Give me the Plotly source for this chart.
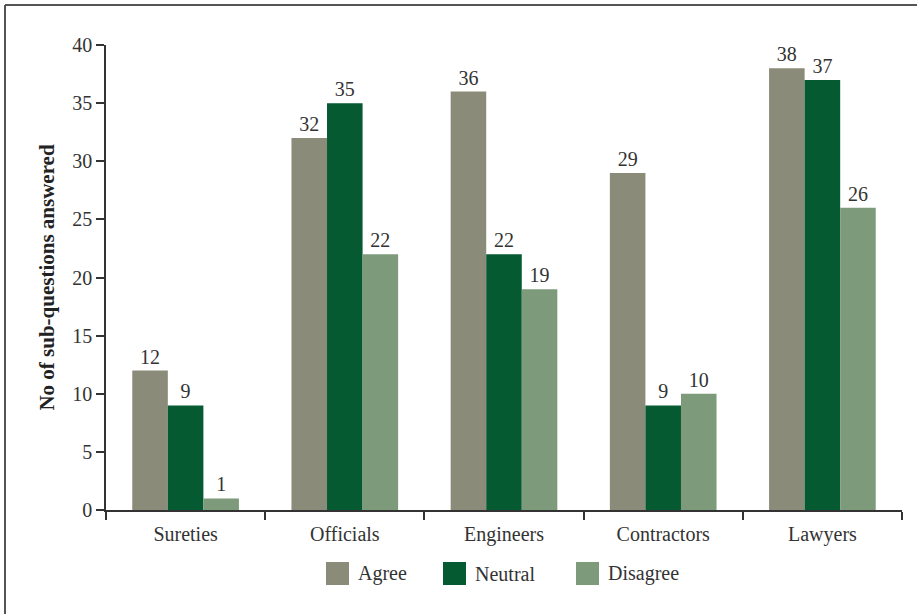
import plotly.graph_objects as go

categories = ["Sureties", "Officials", "Engineers", "Contractors", "Lawyers"]
agree = [12, 32, 36, 29, 38]
neutral = [9, 35, 22, 9, 37]
disagree = [1, 22, 19, 10, 26]
series_names = ["Agree", "Neutral", "Disagree"]
colors = ["#8a8b78", "#055a32", "#7d9a7b"]
y_ticks = [0, 5, 10, 15, 20, 25, 30, 35, 40]

FONT = "Liberation Serif"
TXT = "#333333"

fig = go.Figure()
for name, vals, col in zip(series_names, [agree, neutral, disagree], colors):
    fig.add_trace(go.Bar(
        x=categories, y=vals, name=name, marker_color=col,
        marker_line_width=0,
        text=[str(v) for v in vals], textposition="outside",
        textfont=dict(family=FONT, size=20, color=TXT),
        cliponaxis=False, showlegend=False,
    ))

W, H = 917, 614
ml, mr, mt, mb = 106, 15, 45, 104
pw, ph = W - ml - mr, H - mt - mb

def px_x(p):
    return (p - ml) / pw

def px_y(p):
    return 1 - (p - mt) / ph

shapes = []
annotations = []
# frame (top and left edges of the picture box)
fx, fy = px_x(5), px_y(5)
shapes.append(dict(type="line", xref="paper", yref="paper", x0=fx, x1=fx, y0=px_y(620), y1=fy,
                   line=dict(color="#555555", width=2)))
shapes.append(dict(type="line", xref="paper", yref="paper", x0=fx, x1=px_x(920), y0=fy, y1=fy,
                   line=dict(color="#555555", width=2)))

# custom legend
leg_x = [326, 443, 576]
for name, col, lx in zip(series_names, colors, leg_x):
    shapes.append(dict(type="rect", xref="paper", yref="paper",
                       x0=px_x(lx), x1=px_x(lx + 23), y0=px_y(585), y1=px_y(562),
                       fillcolor=col, line=dict(width=0)))
    annotations.append(dict(xref="paper", yref="paper", x=px_x(lx + 30), y=px_y(573.5),
                            text=name, showarrow=False, xanchor="left", yanchor="middle",
                            font=dict(family=FONT, size=20, color=TXT)))

fig.update_layout(
    width=W, height=H,
    margin=dict(l=ml, r=mr, t=mt, b=mb),
    paper_bgcolor="white", plot_bgcolor="white",
    barmode="group", bargap=0.33, bargroupgap=0,
    font=dict(family=FONT, size=20, color=TXT),
    shapes=shapes, annotations=annotations,
    xaxis=dict(
        showline=True, linecolor="#333333", linewidth=1.5,
        ticks="outside", ticklen=8, tickcolor="#333333", tickwidth=1.5,
        tickson="boundaries", showgrid=False, ticklabelstandoff=5,
        tickfont=dict(family=FONT, size=20, color=TXT),
    ),
    yaxis=dict(
        range=[0, 40], tickvals=y_ticks,
        showline=True, linecolor="#333333", linewidth=1.5,
        ticks="outside", ticklen=8, tickcolor="#333333", tickwidth=1.5,
        showgrid=False, zeroline=False,
        tickfont=dict(family=FONT, size=20, color=TXT),
        title=dict(text="<b>No of sub-questions answered</b>",
                   font=dict(family=FONT, size=21, color="#222222"), standoff=12),
    ),
)

fig.write_html("out.html", config={"displayModeBar": False},
               post_script="document.body.style.margin='0';document.body.style.overflow='hidden';")
